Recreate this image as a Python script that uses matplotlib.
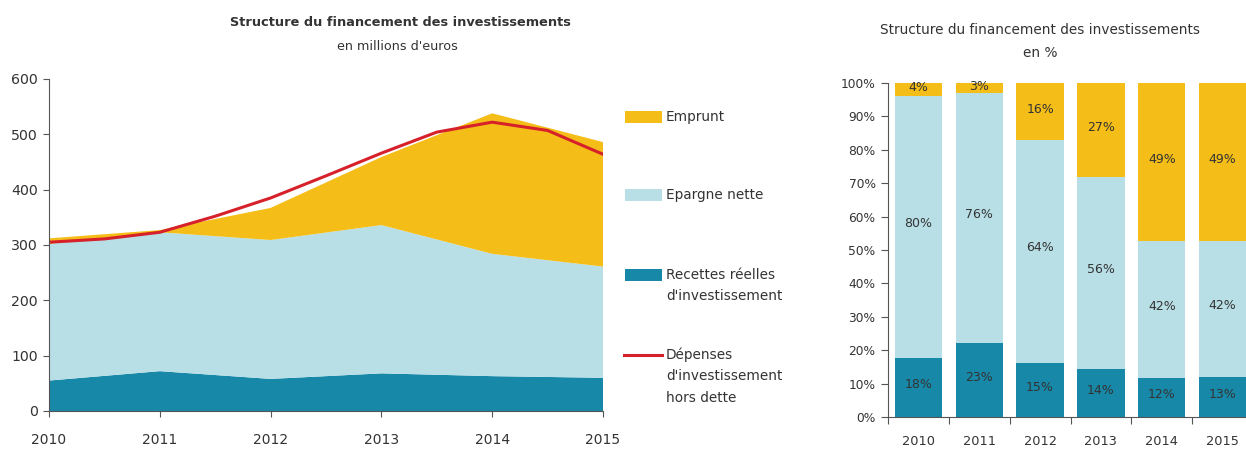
import matplotlib
matplotlib.use("Agg")
import matplotlib.pyplot as plt
from matplotlib.lines import Line2D
import numpy as np

plt.rcParams['font.family'] = ['DejaVu Sans']

# ---- data: left chart (millions d'euros) ----
years = [2010, 2011, 2012, 2013, 2014, 2015]
recettes = [55, 72, 58, 68, 63, 60]
epargne = [247, 251, 251, 268, 221, 201]
emprunt = [10, 4, 58, 123, 254, 225]
dep_x = [2010, 2010.5, 2011, 2011.5, 2012, 2012.5, 2013, 2013.5, 2014, 2014.5, 2015]
depenses = [305, 311, 323, 352, 385, 425, 466, 504, 522, 507, 464]

# ---- data: right chart (%) ----
pct_recettes = [17.7, 22.2, 16.2, 14.4, 11.7, 12.0]
pct_epargne = [78.3, 74.8, 66.8, 57.6, 40.9, 40.8]
pct_emprunt = [4.0, 3.0, 17.0, 28.0, 47.7, 47.2]
lab_recettes = ['18%', '23%', '15%', '14%', '12%', '13%']
lab_epargne = ['80%', '76%', '64%', '56%', '42%', '42%']
lab_emprunt = ['4%', '3%', '16%', '27%', '49%', '49%']

c_yel = '#F4BD17'
c_light = '#B8DFE6'
c_dark = '#1788A7'
c_red = '#D6202A'
c_txt = '#333333'

fig = plt.figure(figsize=(12.46, 4.5), dpi=100)
W, H = 1246, 450

def ax_rect(x0, x1, ytop, ybot):
    return [x0 / W, 1 - ybot / H, (x1 - x0) / W, (ybot - ytop) / H]

# ---------- left chart ----------
ax = fig.add_axes(ax_rect(49, 603, 79, 411))
ax.stackplot(years, recettes, epargne, emprunt,
             colors=[c_dark, c_light, c_yel], linewidth=0)
ax.plot(dep_x, depenses, color=c_red, lw=2.2, solid_joinstyle='round')
ax.set_xlim(2010, 2015)
ax.set_ylim(0, 600)
ax.set_yticks(range(0, 601, 100))
ax.set_xticks(years)
for s in ['top', 'right']:
    ax.spines[s].set_visible(False)
for s in ['left', 'bottom']:
    ax.spines[s].set_color('#555555')
    ax.spines[s].set_linewidth(0.8)
ax.tick_params(axis='y', length=4, width=0.8, colors='#555555', labelcolor=c_txt,
               labelsize=10.2, pad=4)
ax.tick_params(axis='x', length=4, width=0.8, colors='#555555', labelcolor=c_txt,
               labelsize=10, pad=12)

fig.text(400 / W, 1 - 22 / H, "Structure du financement des investissements",
         ha='center', va='center', fontsize=9.3, fontweight='bold', color=c_txt)
fig.text(397 / W, 1 - 47 / H, "en millions d'euros",
         ha='center', va='center', fontsize=9.2, color=c_txt)

# legend drawn manually in figure coords
leg_items = [
    ('patch', c_yel, ["Emprunt"], 117),
    ('patch', c_light, ["Epargne nette"], 195),
    ('patch', c_dark, ["Recettes réelles", "d'investissement"], 275),
    ('line', c_red, ["Dépenses", "d'investissement", "hors dette"], 355),
]
for kind, col, lines, yc in leg_items:
    if kind == 'patch':
        fig.patches.append(plt.Rectangle((625 / W, 1 - (yc + 6) / H), 37 / W, 12 / H,
                                         transform=fig.transFigure, color=col, lw=0))
    else:
        fig.lines.append(Line2D([624 / W, 662 / W], [1 - yc / H, 1 - yc / H],
                                transform=fig.transFigure, color=col, lw=2.2))
    for i, t in enumerate(lines):
        fig.text(666 / W, 1 - (yc + i * 21.5) / H, t, ha='left', va='center',
                 fontsize=9.8, color=c_txt)

# ---------- right chart ----------
ax2 = fig.add_axes(ax_rect(888, 1253, 83, 417))
x = np.arange(len(years))
bw = 0.78
ax2.bar(x, pct_recettes, bw, color=c_dark, lw=0)
bot2 = np.array(pct_recettes)
ax2.bar(x, pct_epargne, bw, bottom=bot2, color=c_light, lw=0)
bot3 = bot2 + np.array(pct_epargne)
ax2.bar(x, pct_emprunt, bw, bottom=bot3, color=c_yel, lw=0)
for i in range(len(years)):
    ax2.text(x[i], pct_recettes[i] / 2 + 0.8, lab_recettes[i], ha='center', va='center',
             fontsize=9, color=c_txt)
    ax2.text(x[i], bot2[i] + pct_epargne[i] / 2 + 1, lab_epargne[i],
             ha='center', va='center', fontsize=9, color=c_txt)
    ax2.text(x[i], bot3[i] + pct_emprunt[i] / 2 + 0.6, lab_emprunt[i], ha='center', va='center',
             fontsize=9, color=c_txt)
ax2.set_xlim(-0.5, 5.5)
ax2.set_ylim(0, 100)
ax2.set_yticks(range(0, 101, 10))
ax2.set_yticklabels([f"{v}%" for v in range(0, 101, 10)])
ax2.set_xticks(x)
ax2.set_xticklabels([str(y) for y in years])
ax2.set_xticks(np.arange(-0.5, 6, 1), minor=True)
for s in ['top', 'right']:
    ax2.spines[s].set_visible(False)
for s in ['left', 'bottom']:
    ax2.spines[s].set_color('#555555')
    ax2.spines[s].set_linewidth(0.8)
ax2.tick_params(axis='y', length=5, width=0.8, colors='#555555', labelcolor=c_txt,
                labelsize=8.8, pad=4)
ax2.tick_params(axis='x', which='major', length=0, labelcolor=c_txt, labelsize=9.3, pad=13)
ax2.tick_params(axis='x', which='minor', length=5, width=0.8, colors='#555555')

fig.text(1040 / W, 1 - 30 / H, "Structure du financement des investissements",
         ha='center', va='center', fontsize=9.8, color=c_txt)
fig.text(1040 / W, 1 - 53 / H, "en %",
         ha='center', va='center', fontsize=9.8, color=c_txt)

fig.savefig("out.png", dpi=100)
